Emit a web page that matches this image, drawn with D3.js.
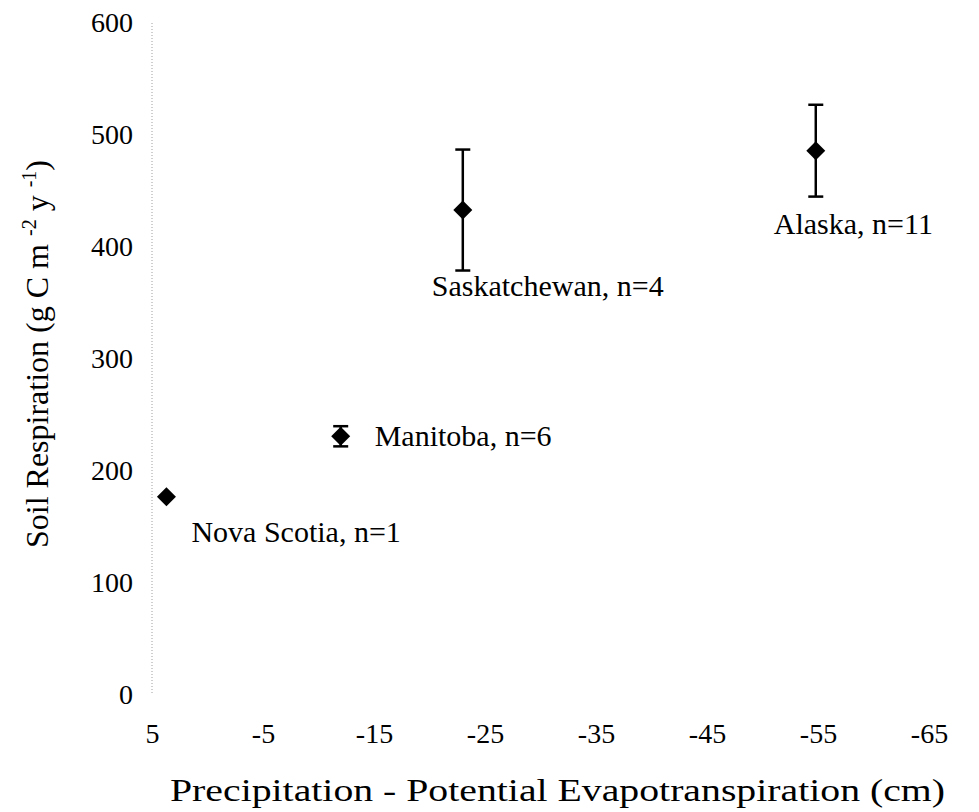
<!DOCTYPE html>
<html>
<head>
<meta charset="utf-8">
<script src="https://cdn.jsdelivr.net/npm/d3@7/dist/d3.min.js"></script>
<style>
  html, body { margin: 0; padding: 0; background: #fff; }
  svg { display: block; }
  text { font-family: "Liberation Serif", "Times New Roman", serif; fill: #000; }
</style>
</head>
<body>
<svg id="chart" width="979" height="812"></svg>
<script>
// Site names, P - PET (cm), mean soil respiration and its error (g C m-2 y-1)
const sites = ["Nova Scotia", "Manitoba", "Saskatchewan", "Alaska"];
const sampleSizes = [1, 6, 4, 11];
const ppet = [3.7, -12.0, -23.0, -54.8];
const respiration = [177, 231, 433, 486];
const respirationErr = [0, 9, 54, 41];

const xTicks = [5, -5, -15, -25, -35, -45, -55, -65];
const yTicks = [0, 100, 200, 300, 400, 500, 600];

// label placement relative to each marker (px)
const labelOffsets = [[25, 45], [34, 10], [-31, 86], [-42, 83]];

const svg = d3.select("#chart");
const plot = { left: 152, right: 929, top: 23, bottom: 695 };
const serif = '"Liberation Serif", "Times New Roman", serif';

const x = d3.scaleLinear().domain([5, -65]).range([plot.left, plot.right]);
const y = d3.scaleLinear().domain([0, 600]).range([plot.bottom, plot.top]);

// faint dotted value axis
svg.append("line")
  .attr("x1", x(5)).attr("x2", x(5))
  .attr("y1", y(600)).attr("y2", y(0))
  .attr("stroke", "#888").attr("stroke-width", 1)
  .attr("stroke-dasharray", "1,2").attr("opacity", 0.8);

// y tick labels
const yAxis = svg.append("g")
  .attr("transform", `translate(${plot.left},0)`)
  .call(d3.axisLeft(y).tickValues(yTicks).tickSize(0).tickPadding(19).tickFormat(d3.format("d")));
yAxis.select(".domain").remove();
yAxis.selectAll("text")
  .style("font-family", serif)
  .style("font-size", "28px")
  .attr("fill", "#000");

// x tick labels
const xAxis = svg.append("g")
  .attr("transform", `translate(0,${plot.bottom})`)
  .call(d3.axisBottom(x).tickValues(xTicks).tickSize(0).tickPadding(28).tickFormat(d => String(d)));
xAxis.select(".domain").remove();
xAxis.selectAll("text")
  .style("font-family", serif)
  .style("font-size", "28px")
  .attr("fill", "#000");

// axis titles
svg.append("text")
  .attr("x", 170)
  .attr("y", 801)
  .attr("textLength", 775)
  .attr("lengthAdjust", "spacingAndGlyphs")
  .style("font-size", "31px")
  .text("Precipitation - Potential Evapotranspiration (cm)");

const yTitle = svg.append("text")
  .attr("transform", `translate(48,354) rotate(-90)`)
  .attr("text-anchor", "middle")
  .style("font-size", "32px");
yTitle.append("tspan").text("Soil Respiration (g C m  ");
yTitle.append("tspan").attr("dy", -12).style("font-size", "20px").text("-2");
yTitle.append("tspan").attr("dy", 12).text("  y  ");
yTitle.append("tspan").attr("dy", -12).style("font-size", "20px").text("-1");
yTitle.append("tspan").attr("dy", 12).text(")");

// error bars
const pts = sites.map((s, i) => ({
  site: s, n: sampleSizes[i], x: ppet[i], y: respiration[i], e: respirationErr[i], off: labelOffsets[i]
}));

const g = svg.append("g");
const capW = 7.5;
pts.filter(d => d.e > 0).forEach(d => {
  const cx = x(d.x);
  g.append("line").attr("x1", cx).attr("x2", cx)
    .attr("y1", y(d.y - d.e)).attr("y2", y(d.y + d.e))
    .attr("stroke", "#000").attr("stroke-width", 2.5);
  [d.y - d.e, d.y + d.e].forEach(v => {
    g.append("line").attr("x1", cx - capW).attr("x2", cx + capW)
      .attr("y1", y(v)).attr("y2", y(v))
      .attr("stroke", "#000").attr("stroke-width", 2.5);
  });
});

// diamond markers
const diamond = d3.symbol().type(d3.symbolSquare).size(180);
g.selectAll("path.pt").data(pts).join("path")
  .attr("class", "pt")
  .attr("d", diamond)
  .attr("transform", d => `translate(${x(d.x)},${y(d.y)}) rotate(45)`)
  .attr("fill", "#000");

// site labels
g.selectAll("text.lbl").data(pts).join("text")
  .attr("class", "lbl")
  .attr("x", d => x(d.x) + d.off[0])
  .attr("y", d => y(d.y) + d.off[1])
  .style("font-size", "30px")
  .text(d => `${d.site}, n=${d.n}`);
</script>
</body>
</html>
